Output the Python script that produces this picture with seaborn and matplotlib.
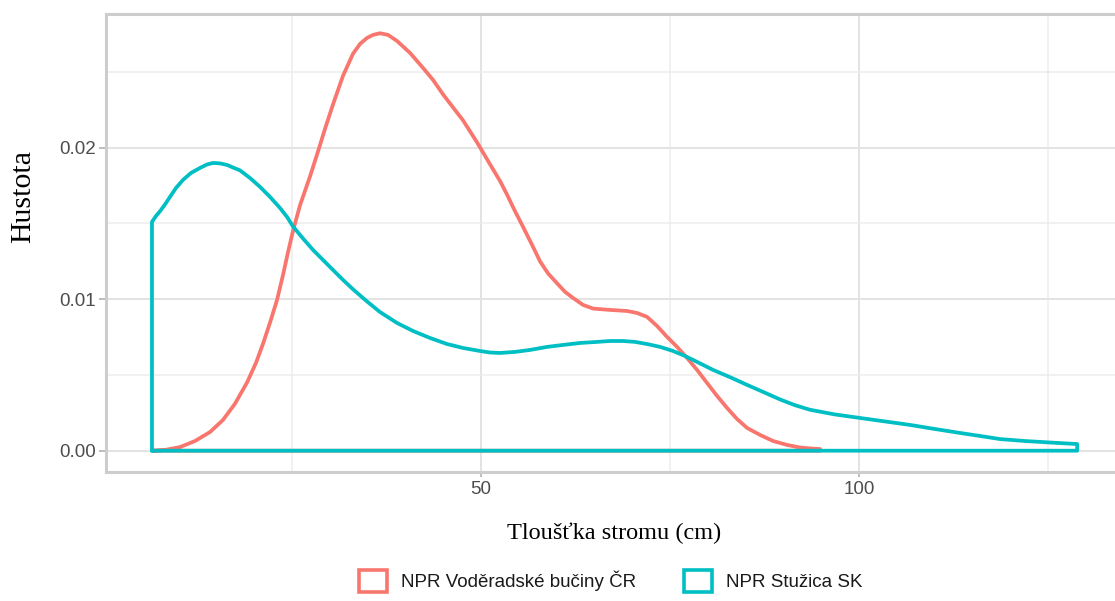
import numpy as np
import pandas as pd
import seaborn as sns
import matplotlib.pyplot as plt
from matplotlib.patches import Patch

# density curves (x = tree diameter in cm, y = density)
vod_x = [6.48, 8.20, 10.19, 12.17, 14.15, 15.87, 17.46, 19.05, 20.24, 21.16, 22.09, 23.02,
         23.81, 24.47, 25.13, 26.06, 27.38, 28.44, 29.37, 30.42, 31.75, 33.07, 34.0, 34.92,
         35.71, 36.64, 37.70, 38.89, 40.61, 42.33, 43.65, 44.97, 46.30, 47.62, 49.47, 51.19,
         52.51, 53.44, 54.50, 55.56, 56.75, 57.80, 58.86, 60.05, 61.11, 62.17, 63.49, 64.81,
         67.06, 69.31, 70.63, 71.96, 73.28, 74.60, 75.93, 77.25, 78.57, 79.89, 81.22, 82.54,
         83.86, 85.19, 86.90, 88.62, 90.48, 92.20, 93.52, 94.84]
vod_y = [0.0, 0.00005, 0.00024, 0.00064, 0.00123, 0.00203, 0.00310, 0.00450, 0.00580,
         0.00705, 0.00845, 0.00995, 0.01160, 0.01310, 0.01450, 0.01620, 0.01810, 0.01975,
         0.02125, 0.02285, 0.02475, 0.02620, 0.02685, 0.02724, 0.02744, 0.02755, 0.02744,
         0.02704, 0.02625, 0.02526, 0.02447, 0.02352, 0.02265, 0.02180, 0.02035, 0.01890,
         0.01780, 0.01690, 0.01580, 0.01477, 0.01358, 0.01250, 0.01170, 0.01105, 0.01048,
         0.01008, 0.00962, 0.00938, 0.00929, 0.00922, 0.00909, 0.00883, 0.00823, 0.00751,
         0.00685, 0.00612, 0.00533, 0.00447, 0.00361, 0.00282, 0.00209, 0.00150, 0.00104,
         0.00064, 0.00038, 0.00021, 0.00015, 0.00011]

stu_x = [6.48, 7.01, 7.54, 8.20, 8.86, 9.66, 10.58, 11.64, 12.83, 13.76, 14.55, 15.48, 16.40,
         17.20, 18.12, 19.44, 20.77, 22.09, 23.41, 24.34, 25.13, 26.46, 27.78, 29.10, 30.42,
         31.75, 33.07, 34.92, 36.64, 38.89, 41.01, 43.25, 45.50, 47.62, 49.87, 51.19, 52.51,
         54.50, 56.48, 58.73, 60.85, 63.10, 65.34, 67.06, 68.78, 70.37, 71.96, 73.68, 75.40,
         76.98, 78.57, 80.69, 82.94, 85.19, 87.30, 89.55, 91.53, 93.52, 96.83, 100.13,
         103.44, 106.75, 110.05, 113.36, 116.67, 118.6, 121.9, 126.3, 128.84]
stu_y = [0.01510, 0.01549, 0.01580, 0.01625, 0.01675, 0.01734, 0.01787, 0.01833, 0.01866,
         0.01889, 0.01899, 0.01896, 0.01886, 0.01869, 0.01850, 0.01800, 0.01741, 0.01675,
         0.01602, 0.01543, 0.01480, 0.01400, 0.01325, 0.01259, 0.01193, 0.01127, 0.01065,
         0.00985, 0.00915, 0.00843, 0.00790, 0.00744, 0.00704, 0.00678, 0.00658, 0.00648,
         0.00645, 0.00652, 0.00665, 0.00685, 0.00698, 0.00711, 0.00718, 0.00724, 0.00724,
         0.00718, 0.00704, 0.00685, 0.00658, 0.00625, 0.00586, 0.00533, 0.00485, 0.00434,
         0.00388, 0.00338, 0.00300, 0.00270, 0.00239, 0.00216, 0.00193, 0.00170, 0.00143,
         0.00117, 0.00092, 0.00077, 0.00064, 0.00051, 0.00044]

sites = ["NPR Voděradské bučiny ČR", "NPR Stužica SK"]
colors = ["#F8766D", "#00BFC4"]


def closed(xs, ys, name):
    # density outline like geom_density: drop to zero at both ends and close
    xx = [xs[0]] + list(xs) + [xs[-1], xs[0]]
    yy = [0.0] + list(ys) + [0.0, 0.0]
    return pd.DataFrame({"x": xx, "y": yy, "site": name})


df = pd.concat([closed(vod_x, vod_y, sites[0]), closed(stu_x, stu_y, sites[1])])

sns.set_theme(style="whitegrid")
plt.rcParams['font.family'] = ['Liberation Sans', 'DejaVu Sans']

fig = plt.figure(figsize=(11.15, 6.01), dpi=100)
ax = fig.add_axes([106 / 1115, 1 - 471.7 / 601, 1017 / 1115, 457.7 / 601])

sns.lineplot(data=df, x="x", y="y", hue="site", palette=colors, sort=False,
             estimator=None, units="site", lw=2.7, legend=False, ax=ax)
for ln in ax.lines:
    ln.set_solid_joinstyle("round")
    ln.set_solid_capstyle("round")

ax.set_xlim(0.4, 134.9)
ax.set_ylim(-0.001386, 0.02882)
ax.set_xticks([50, 100])
ax.set_xticks([25, 75, 125], minor=True)
ax.set_yticks([0.0, 0.01, 0.02])
ax.set_yticks([0.005, 0.015, 0.025], minor=True)
ax.set_yticklabels(["0.00", "0.01", "0.02"])

ax.grid(which="major", color="#E3E3E3", lw=1.4)
ax.grid(which="minor", color="#EDEDED", lw=1.1)
ax.set_axisbelow(True)
for side, s in ax.spines.items():
    s.set_color("#CDCDCD")
    s.set_linewidth(2.2)
    s.set_visible(side != "right")

ax.tick_params(axis="both", which="major", labelsize=13.5, labelcolor="#4D4D4D",
               color="#BDBDBD", width=1.4)
ax.tick_params(axis="x", which="major", length=3.5, pad=3.2, bottom=True)
ax.tick_params(axis="y", which="major", length=5, pad=2.2, left=True)
ax.tick_params(which="minor", length=0)

ax.set_xlabel("Tloušťka stromu (cm)", family="Liberation Serif", fontsize=17.5,
              color="black", va="center")
ax.xaxis.set_label_coords(0.5, -0.134)
ax.set_ylabel("Hustota", family="Liberation Serif", fontsize=21.5,
              color="black", va="center")
ax.yaxis.set_label_coords(-0.0816, 0.602)

handles = [Patch(facecolor="white", edgecolor=c, linewidth=2.6, label=s)
           for s, c in zip(sites, colors)]
fig.legend(handles=handles, loc="center", bbox_to_anchor=(611 / 1115, 1 - 581 / 601),
           ncol=2, frameon=False, fontsize=13.5, handlelength=1.5, handleheight=1.5,
           handletextpad=0.75, columnspacing=2.55, labelcolor="#1A1A1A")

fig.savefig("out.png", dpi=100)
